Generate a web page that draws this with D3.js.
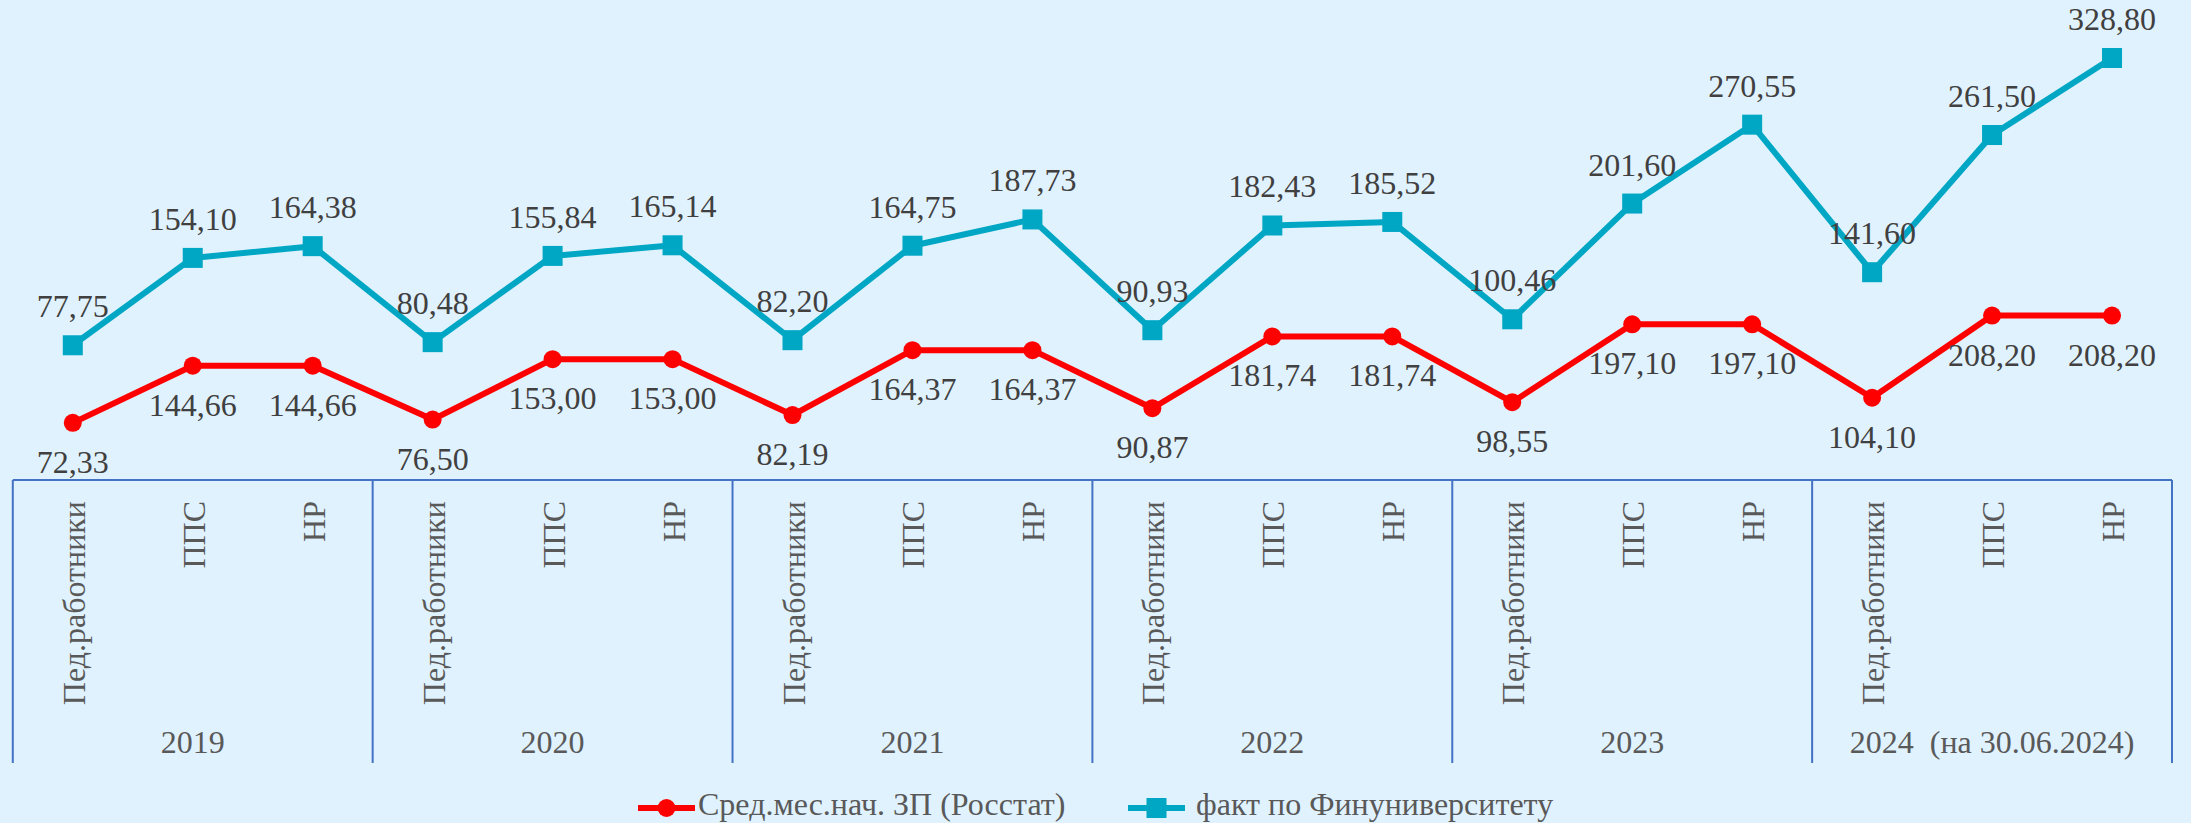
<!DOCTYPE html>
<html lang="ru">
<head>
<meta charset="utf-8">
<title>Средняя заработная плата</title>
<script src="https://cdn.jsdelivr.net/npm/d3@7"></script>
<style>
  html, body { margin: 0; padding: 0; background: #E0F2FE; }
  svg { display: block; font-family: "Liberation Serif", "Times New Roman", serif; }
</style>
</head>
<body>
<div id="chart"></div>
<script>
// Categories: three staff groups for each year
const years = ["2019", "2020", "2021", "2022", "2023", "2024  (на 30.06.2024)"];
const staff = ["Пед.работники", "ППС", "НР"];

// Average monthly wage (Rosstat), thousand roubles
const rosstat = [72.33, 144.66, 144.66, 76.50, 153.00, 153.00, 82.19, 164.37, 164.37,
                 90.87, 181.74, 181.74, 98.55, 197.10, 197.10, 104.10, 208.20, 208.20];
// Actual values at the Financial University, thousand roubles
const finuniver = [77.75, 154.10, 164.38, 80.48, 155.84, 165.14, 82.20, 164.75, 187.73,
                   90.93, 182.43, 185.52, 100.46, 201.60, 270.55, 141.60, 261.50, 328.80];

const seriesNames = ["Сред.мес.нач. ЗП (Росстат)", "факт по Финуниверситету"];

const W = 2191, H = 823;
const left = 12.8, right = 2172, axisY = 480, axisBottom = 763;
const RED = "#FF0000", TEAL = "#00A7C4", AXIS = "#4472C4";
const VALUE_TXT = "#404040", CAT_TXT = "#595959";

const fmt = v => d3.format(".2f")(v).replace(".", ",");

const svg = d3.select("#chart").append("svg")
  .attr("width", W).attr("height", H);

svg.append("rect").attr("width", W).attr("height", H).attr("fill", "#E0F2FE");

const idx = d3.range(rosstat.length);
const x = d3.scaleBand().domain(idx).range([left, right]).padding(0);
const cx = i => x(i) + x.bandwidth() / 2;

// primary axis for the Rosstat series, secondary axis for the university series
const yLeft = d3.scaleLinear().domain([0, 600]).range([axisY, 6]);
const yRight = d3.scaleLinear().domain([-40, 376]).range([axisY, 4]);

// --- category axis: baseline, group separators, rotated staff labels, years
const groupX = d3.scaleBand().domain(d3.range(years.length)).range([left, right]);

const axis = svg.append("g");
axis.append("line")
  .attr("x1", left).attr("x2", right).attr("y1", axisY).attr("y2", axisY)
  .attr("stroke", AXIS).attr("stroke-width", 2);

axis.selectAll("line.sep")
  .data(d3.range(years.length + 1))
  .join("line")
  .attr("class", "sep")
  .attr("x1", d => d < years.length ? groupX(d) : right)
  .attr("x2", d => d < years.length ? groupX(d) : right)
  .attr("y1", axisY).attr("y2", axisBottom)
  .attr("stroke", AXIS).attr("stroke-width", 2);

axis.selectAll("text.cat")
  .data(idx)
  .join("text")
  .attr("class", "cat")
  .attr("transform", i => `translate(${cx(i) + 12},501) rotate(-90)`)
  .attr("text-anchor", "end")
  .attr("font-size", 32)
  .attr("fill", CAT_TXT)
  .text(i => staff[i % staff.length]);

axis.selectAll("text.year")
  .data(years)
  .join("text")
  .attr("class", "year")
  .attr("x", (d, i) => groupX(i) + groupX.bandwidth() / 2)
  .attr("y", 753)
  .attr("text-anchor", "middle")
  .attr("font-size", 32)
  .attr("fill", CAT_TXT)
  .style("white-space", "pre")
  .text(d => d);

// --- lines
const lineL = d3.line().x((d, i) => cx(i)).y(d => yLeft(d));
const lineR = d3.line().x((d, i) => cx(i)).y(d => yRight(d));

svg.append("path").datum(finuniver)
  .attr("d", lineR).attr("fill", "none")
  .attr("stroke", TEAL).attr("stroke-width", 6).attr("stroke-linejoin", "round");

svg.append("path").datum(rosstat)
  .attr("d", lineL).attr("fill", "none")
  .attr("stroke", RED).attr("stroke-width", 6).attr("stroke-linejoin", "round");

// --- markers
svg.append("g").selectAll("rect")
  .data(finuniver)
  .join("rect")
  .attr("x", (d, i) => cx(i) - 10)
  .attr("y", d => yRight(d) - 10)
  .attr("width", 20).attr("height", 20)
  .attr("fill", TEAL);

svg.append("g").selectAll("circle")
  .data(rosstat)
  .join("circle")
  .attr("cx", (d, i) => cx(i))
  .attr("cy", d => yLeft(d))
  .attr("r", 9)
  .attr("fill", RED);

// --- value labels
svg.append("g").selectAll("text")
  .data(finuniver)
  .join("text")
  .attr("x", (d, i) => cx(i))
  .attr("y", d => yRight(d) - 28)
  .attr("text-anchor", "middle")
  .attr("font-size", 32)
  .attr("fill", VALUE_TXT)
  .text(fmt);

svg.append("g").selectAll("text")
  .data(rosstat)
  .join("text")
  .attr("x", (d, i) => cx(i))
  .attr("y", d => yLeft(d) + 50)
  .attr("text-anchor", "middle")
  .attr("font-size", 32)
  .attr("fill", VALUE_TXT)
  .text(fmt);

// --- legend
const legend = svg.append("g");
const lgY = 808;
const lgBase = 815;
const red = legend.append("g");
red.append("line").attr("x1", 638).attr("x2", 695).attr("y1", lgY).attr("y2", lgY)
  .attr("stroke", RED).attr("stroke-width", 6);
red.append("circle").attr("cx", 666.5).attr("cy", lgY).attr("r", 9).attr("fill", RED);
red.append("text").attr("x", 698).attr("y", lgBase).attr("font-size", 32)
  .attr("fill", CAT_TXT).text(seriesNames[0]);

const teal = legend.append("g");
teal.append("line").attr("x1", 1128).attr("x2", 1185).attr("y1", lgY).attr("y2", lgY)
  .attr("stroke", TEAL).attr("stroke-width", 6);
teal.append("rect").attr("x", 1146.5).attr("y", lgY - 10).attr("width", 20).attr("height", 20)
  .attr("fill", TEAL);
teal.append("text").attr("x", 1196).attr("y", lgBase).attr("font-size", 32)
  .attr("fill", CAT_TXT).text(seriesNames[1]);
</script>
</body>
</html>
